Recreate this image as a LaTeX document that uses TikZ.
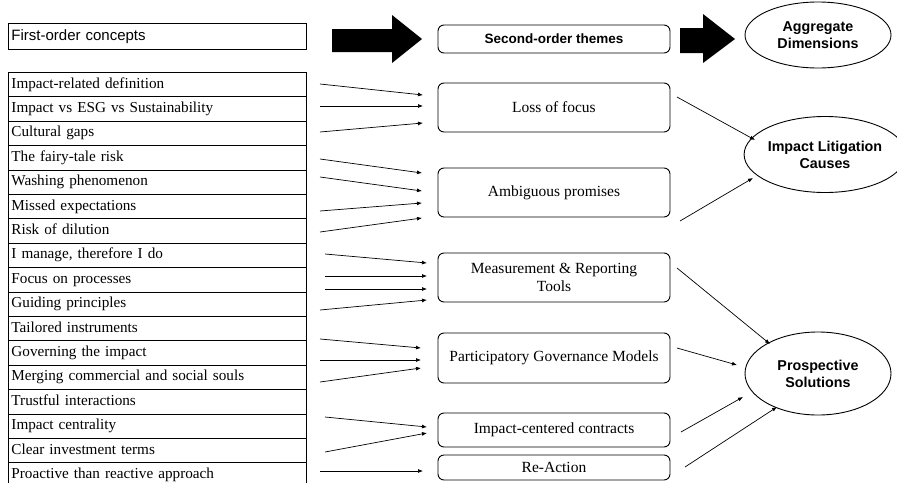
\documentclass[tikz,border=0pt]{standalone}
\usepackage{fontspec}
\setmainfont{Liberation Serif}
\newfontfamily\hsans{Liberation Sans}
\usetikzlibrary{arrows.meta,shapes.geometric}
\tikzset{
  rowbox/.style={draw, line width=0.9pt, minimum width=298pt, minimum height=24.4pt,
    anchor=north west, inner xsep=3pt, inner ysep=0pt, text width=292pt, align=left,
    text height=10.5pt, text depth=3.5pt,
    font=\fontsize{15.2}{17}\selectfont},
  hdrbox/.style={draw, line width=0.9pt, minimum width=298pt, minimum height=26pt,
    anchor=north west, inner xsep=3pt, inner ysep=0pt, text width=292pt, align=left,
    font=\hsans\fontsize{15}{17}\selectfont},
  themebox/.style={draw, rounded corners=6pt, line width=0.9pt, minimum width=232pt,
    inner sep=0pt, align=center, font=\fontsize{15.5}{17.5}\selectfont},
  dimell/.style={draw, ellipse, line width=0.9pt, inner sep=0pt, align=center,
    font=\hsans\bfseries\fontsize{14.3}{17}\selectfont},
  arr/.style={-{Latex[length=5pt,width=4pt]}, line width=0.7pt},
  bigarrow/.style={fill=black}
}
\begin{document}
\begin{tikzpicture}[x=1pt,y=-1pt]
\useasboundingbox (0,0) rectangle (897,482);

% first-order header and list
\node[hdrbox] (fo) at (8,23) {First-order concepts};
\foreach \t [count=\i from 0] in {
  Impact-related definition,
  Impact vs ESG vs Sustainability,
  Cultural gaps,
  The fairy-tale risk,
  Washing phenomenon,
  Missed expectations,
  Risk of dilution,
  {I manage, therefore I do},
  Focus on processes,
  Guiding principles,
  Tailored instruments,
  Governing the impact,
  Merging commercial and social souls,
  Trustful interactions,
  Impact centrality,
  Clear investment terms,
  Proactive than reactive approach}
  { \node[rowbox] (r\i) at (8,{72+24.4*\i}) {\t}; }

% second-order themes
\node[themebox, minimum height=28pt, font=\hsans\bfseries\fontsize{13.5}{16}\selectfont] (so) at (554,39) {Second-order themes};
\node[themebox, minimum height=49pt] (lof) at (554,107.5) {Loss of focus};
\node[themebox, minimum height=49pt] (amb) at (554,192.5) {Ambiguous promises};
\node[themebox, minimum height=49pt] (mrt) at (554,277.5) {Measurement \& Reporting\\Tools};
\node[themebox, minimum height=50pt] (pgm) at (554,358) {Participatory Governance Models};
\node[themebox, minimum height=34pt] (icc) at (554,430) {Impact-centered contracts};
\node[themebox, minimum height=25pt] (rea) at (554,467.5) {Re-Action};

% aggregate dimensions
\node[dimell, minimum width=146pt, minimum height=66pt] (agg) at (818,35) {Aggregate\\Dimensions};
\node[dimell, minimum width=144pt, minimum height=76pt] (ilc) at (825,154.5) {Impact Litigation\\Causes};
\node[dimell, minimum width=146pt, minimum height=83pt] (ps) at (818,373.5) {Prospective\\Solutions};

% big block arrows
\fill[bigarrow] (332,29) -- (392,29) -- (392,15) -- (422,39) -- (392,63) -- (392,52) -- (332,52) -- cycle;
\fill[bigarrow] (680,28) -- (703,28) -- (703,14) -- (735,39) -- (703,63) -- (703,53) -- (680,53) -- cycle;

% small arrows from concepts to themes
\foreach \i/\sx/\sy/\ex/\ey in {
  1/320/84/423/95, 2/320/106/423/106, 3/320/132/423/123,
  4/320/159/422/173, 5/320/177/422/191, 6/320/211/422/203, 7/320/232/422/218,
  8/325/254/427/263, 9/325/276/427/276, 10/325/289/427/289, 11/320/310/427/300,
  12/320/339/421/348, 13/320/360/421/360, 14/320/382/421/368,
  15/325/417/427/427, 16/325/452/427/433, 17/320/471/423/471}
{
  \coordinate (a\i) at (\sx,\sy);
  \coordinate (b\i) at (\ex,\ey);
  \draw[arr] (a\i) -- (b\i);
}

% arrows from themes to dimensions
\coordinate (c1) at (677,97);  \coordinate (d1) at (755,140);
\coordinate (c2) at (680,221); \coordinate (d2) at (753,178);
\coordinate (c3) at (677,268); \coordinate (d3) at (770,344);
\coordinate (c4) at (677,348); \coordinate (d4) at (737,365);
\coordinate (c5) at (681,432); \coordinate (d5) at (743,397);
\coordinate (c6) at (685,467); \coordinate (d6) at (777,407);
\foreach \i in {1,...,6} { \draw[arr] (c\i) -- (d\i); }
\end{tikzpicture}
\end{document}
